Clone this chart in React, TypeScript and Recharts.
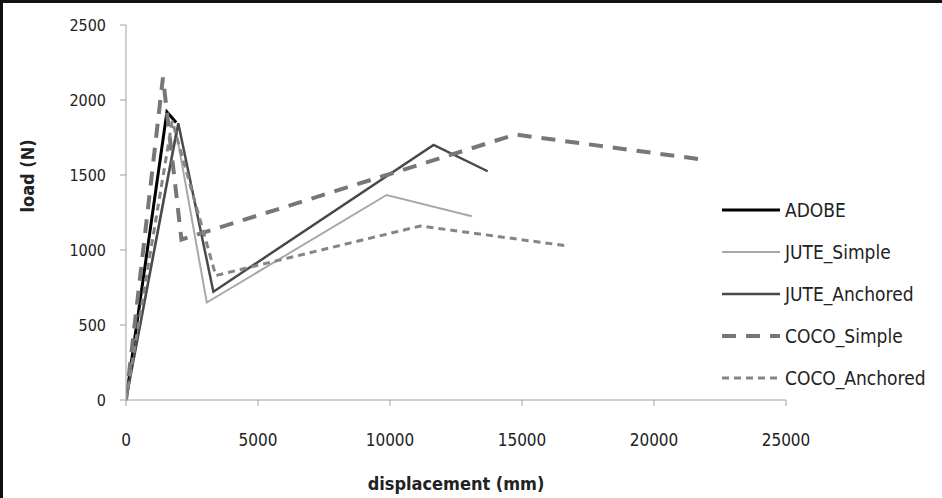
import { LineChart, Line, XAxis, YAxis } from "recharts";

const xTicks = [0, 5000, 10000, 15000, 20000, 25000];
const yTicks = [0, 500, 1000, 1500, 2000, 2500];

const adobe = [
  { x: 0, y: 0 },
  { x: 1550, y: 1920 },
  { x: 1900, y: 1850 },
];
const juteSimple = [
  { x: 0, y: 0 },
  { x: 1900, y: 1790 },
  { x: 3060, y: 650 },
  { x: 9870, y: 1367 },
  { x: 13100, y: 1225 },
];
const juteAnchored = [
  { x: 0, y: 0 },
  { x: 1980, y: 1845 },
  { x: 3310, y: 722 },
  { x: 11650, y: 1700 },
  { x: 13700, y: 1525 },
];
const cocoSimple = [
  { x: 0, y: 0 },
  { x: 1400, y: 2150 },
  { x: 2100, y: 1070 },
  { x: 14750, y: 1770 },
  { x: 21750, y: 1605 },
];
const cocoAnchored = [
  { x: 0, y: 0 },
  { x: 1750, y: 1860 },
  { x: 3400, y: 830 },
  { x: 11150, y: 1160 },
  { x: 16600, y: 1030 },
];

const series = [
  { name: "ADOBE", data: adobe, color: "#000000", width: 3, dash: undefined },
  { name: "JUTE_Simple", data: juteSimple, color: "#a8a8a8", width: 2, dash: undefined },
  { name: "JUTE_Anchored", data: juteAnchored, color: "#4a4a4a", width: 2.5, dash: undefined },
  { name: "COCO_Simple", data: cocoSimple, color: "#777777", width: 4, dash: "14 10" },
  { name: "COCO_Anchored", data: cocoAnchored, color: "#858585", width: 3, dash: "7 5" },
];

const font = "'Liberation Sans Narrow', 'DejaVu Sans Condensed', sans-serif";

// legend sits outside the svg so it doesn't eat plot width
function LegendBox() {
  return (
    <div
      style={{
        position: "absolute",
        left: 720,
        top: 189,
        fontFamily: font,
        fontSize: 19,
        color: "#222",
      }}
    >
      {series.map((s) => (
        <div key={s.name} style={{ display: "flex", alignItems: "center", height: 42 }}>
          <svg width={62} height={10}>
            <line
              x1={2}
              y1={5}
              x2={60}
              y2={5}
              stroke={s.color}
              strokeWidth={s.width}
              strokeDasharray={s.dash}
            />
          </svg>
          <span style={{ marginLeft: 3 }}>{s.name}</span>
        </div>
      ))}
    </div>
  );
}

export default function App() {
  return (
    <div
      style={{
        position: "absolute",
        left: 0,
        top: 0,
        width: 942,
        height: 498,
        background: "#fff",
        overflow: "hidden",
      }}
    >
      <LineChart width={942} height={498} margin={{ top: 25, right: 156, left: 0, bottom: 0 }}>
        <XAxis
          type="number"
          dataKey="x"
          domain={[0, 25000]}
          ticks={xTicks}
          allowDataOverflow
          stroke="#a0a0a0"
          tickSize={6}
          tickMargin={28}
          tick={{ fill: "#222", fontSize: 17, fontFamily: font }}
          height={98}
          label={{
            value: "displacement (mm)",
            position: "insideBottom",
            offset: 8,
            fill: "#222",
            fontSize: 18,
            fontWeight: "bold",
            fontFamily: font,
          }}
        />
        <YAxis
          type="number"
          dataKey="y"
          domain={[0, 2500]}
          ticks={yTicks}
          stroke="#a0a0a0"
          tickSize={6}
          tickMargin={14}
          width={126}
          tick={{ fill: "#222", fontSize: 16, fontFamily: font }}
          label={{
            value: "load (N)",
            angle: -90,
            position: "insideLeft",
            offset: 28,
            fill: "#222",
            fontSize: 18,
            fontWeight: "bold",
            fontFamily: font,
          }}
        />
        {series.map((s) => (
          <Line
            key={s.name}
            data={s.data}
            dataKey="y"
            name={s.name}
            type="linear"
            stroke={s.color}
            strokeWidth={s.width}
            strokeDasharray={s.dash}
            dot={false}
            activeDot={false}
            isAnimationActive={false}
          />
        ))}
      </LineChart>
      <LegendBox />
      <div
        style={{
          position: "absolute",
          left: 0,
          top: 0,
          width: 942,
          height: 498,
          borderTop: "3px solid #111",
          borderLeft: "3px solid #111",
          boxSizing: "border-box",
          pointerEvents: "none",
        }}
      />
    </div>
  );
}
